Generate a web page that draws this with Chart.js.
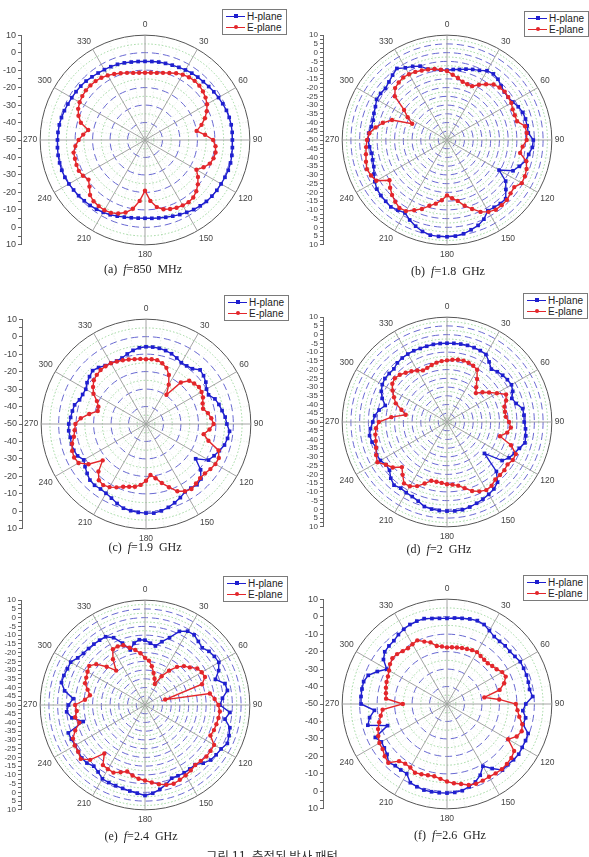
<!DOCTYPE html>
<html>
<head>
<meta charset="utf-8">
<script src="https://cdn.jsdelivr.net/npm/chart.js@4.4.1/dist/chart.umd.min.js"></script>
<style>
  body { margin: 0; background: #fff; }
  #page { position: relative; width: 589px; height: 857px; overflow: hidden; background: #fff; }
  .plot { position: absolute; }
  .legend { position: absolute; border: 1px solid #7a7a7a; background: #fff; padding: 1px 4px 1px 3px;
            font: 10px 'Liberation Sans', Arial, sans-serif; color: #222; line-height: 11px; white-space: nowrap; }
  .lg-line { display: inline-block; position: relative; width: 19px; height: 1.5px; margin-right: 2px;
             vertical-align: middle; top: -1px; }
  .lg-mark { position: absolute; left: 7.5px; top: -1.5px; width: 4px; height: 4px; }
  .caption { position: absolute; transform: translate(-50%, -50%); font: 12px 'Liberation Serif', 'Times New Roman', serif;
             color: #222; white-space: nowrap; }
  .fig-title { position: absolute; left: 272px; top: 846px; transform: translateX(-50%);
               font: 12.5px 'Noto Sans CJK KR', sans-serif; color: #333; white-space: nowrap; }
</style>
</head>
<body>
<div id="page"></div>
<script>
// angle of every measured point (deg)
const angles = [0,5,10,15,20,25,30,35,40,45,50,55,60,65,70,75,80,85,90,95,100,105,110,115,
  120,125,130,135,140,145,150,155,160,165,170,175,180,185,190,195,200,205,210,215,220,225,230,235,
  240,245,250,255,260,265,270,275,280,285,290,295,300,305,310,315,320,325,330,335,340,345,350,355];

const seriesNames = ['H-plane', 'E-plane'];

// gain in dB, one value per angle
const hPlane850 = [-5,-4.9,-4.7,-4.6,-4.4,-4.1,-3.7,-3.3,-3,-2.8,-2.4,-1.9,
  -1.4,-0.9,-0.4,-0.1,0.1,0.1,0,0.2,0.5,0.7,0.7,0.5,
  0.3,0.2,0,-0.3,-0.8,-1.4,-2.2,-2.9,-3.6,-4.2,-4.7,-5,
  -5.2,-5.1,-4.8,-4.3,-3.6,-2.8,-2.2,-1.6,-1.1,-0.8,-0.4,-0.1,
  0.3,0.6,0.7,0.6,0.5,0.3,0.1,0,-0.2,-0.5,-0.9,-1.3,
  -1.6,-1.8,-2,-2.3,-2.8,-3.2,-3.5,-3.7,-3.9,-4.3,-4.7,-4.9];
const ePlane850 = [-11.5,-11.4,-11,-10.2,-9.2,-7.8,-6.8,-6.1,-5.8,-6,-6.7,-7.7,
  -9,-11,-13.5,-16.5,-20,-15.5,-11,-9.5,-9,-9.4,-10.5,-13,
  -16,-13,-10.5,-8.5,-7,-6.5,-6.8,-7.2,-8,-9,-11,-15,
  -21,-15,-10,-7,-5.2,-4,-3.6,-3.8,-4.2,-5.5,-8.5,-10.5,
  -9,-8.2,-8.3,-8.5,-8.5,-10,-12,-14.5,-17,-12,-9.5,-7.8,
  -6.8,-6.2,-5.8,-5.8,-6,-6.5,-7.3,-8.3,-9.3,-10.2,-11,-11.4];

const hPlane1800 = [-10,-9.5,-9,-8,-7,-6,-4.2,-3.8,-4.6,-6.2,-7.2,-7.3,
  -6.5,-5,-3.8,-3.5,-3.4,-3.3,-0.6,-1,-2.5,-3.5,-6,-8.3,
  -15.6,-9,-6,-2.5,-2.5,-3,-3.3,0,2,3.2,4.5,5.2,
  5.4,5.4,5.3,4.2,2.5,0.5,-1.8,-1,0,-0.4,-0.6,-1,
  -2.3,-3.8,-5.4,-6,-6.3,-5.5,-4.8,-5,-6,-6.2,-5.5,-4.8,
  -3.5,-3.6,-4,-3,-1.5,0,-2.3,-3.5,-5,-8,-9,-9.8];
const ePlane1800 = [-10.5,-12.5,-14,-15.5,-16,-16,-13.5,-11,-8.5,-7.5,-6.9,-7.2,
  -7.5,-8.5,-8.7,-8.5,-4.6,-4.2,-4.4,-6.5,-7.5,-3,-1.5,-0.8,
  -0.6,-3,-2.5,-1.5,-1.3,-1.3,-2.5,-4.6,-8,-11,-14.6,-16.5,
  -18.3,-15.4,-13,-11,-8,-5.6,-3,-2.5,-3.9,-5.5,-7.5,-9.8,
  -3.3,-2,-1.2,-2,-2.9,-3.5,-4.2,-5.4,-8.5,-12,-16.5,-28,
  -24,-20,-11,-8,-7,-6.3,-6.5,-7,-7.7,-8.2,-8.7,-9.6];

const hPlane1900 = [-5.8,-5.8,-6,-6.5,-7.2,-8.3,-9.5,-9.4,-8.7,-6.2,-7,-8.2,
  -10,-10.5,-8,-6.8,-5.8,-4.5,-3.7,-2,-2.6,-3.5,-5.3,-7,
  -8.7,-15.3,-9.2,-5.5,-4.6,-5.2,-5.2,-3.5,-2,-0.6,0.5,1.2,
  1,0.8,0.4,-0.1,-1.6,-3.2,-4.2,-4.6,-4.2,-4.6,-6,-7.4,
  -8.9,-6.8,-6,-5.8,-6,-5.6,-5.8,-6.7,-7.2,-7.7,-9.5,-10,
  -10.2,-8.8,-7.8,-6.8,-7.8,-9.2,-9.8,-10.2,-9.8,-8.5,-7.2,-6.2];
const ePlane1900 = [-12.9,-12.8,-12.9,-14,-15.8,-19,-24,-29.6,-19,-15,-14,-13,
  -13.3,-14,-15.5,-16.2,-14,-12.5,-11.3,-13.5,-16.5,-13,-5.8,-4,
  -4.1,-5,-6,-6.2,-5.5,-4.6,-5.5,-7.5,-11.5,-15,-18.5,-20.7,
  -17.5,-15,-13.5,-12.8,-11.8,-10,-8.3,-7.3,-8,-11.5,-17.6,-9.8,
  -5.4,-4.6,-5,-6.2,-8.1,-9,-9.6,-12.5,-17,-21.4,-21,-19,
  -15.3,-13,-11,-10.2,-9.6,-9.6,-9.8,-10.5,-11.2,-11.8,-12.3,-12.6];

const hPlane2000 = [-4.9,-4.8,-4.7,-4.6,-4.7,-4.9,-5.4,-8,-10.5,-9.3,-8.4,-7.8,
  -7.4,-8.5,-10.5,-9,-6,-5.8,-5.8,-4.9,-4.2,-3.8,-6,-7.5,
  -9,-11.5,-22,-10,-5,-3.2,-2.2,-1.3,-0.5,0.4,1,1.1,
  1,0.9,0.6,0.1,-1.8,-2.9,-3.3,-3.8,-2.8,-4.5,-7,-7.4,
  -6,-5.6,-7,-5.6,-5,-6,-7.5,-8.5,-10.5,-13.4,-10.5,-8.5,
  -7.2,-6.6,-6.8,-7,-5.8,-5.3,-5.1,-5,-5.2,-5.1,-4.9,-4.9];
const ePlane2000 = [-14.7,-14.2,-13.8,-13.6,-13.9,-14.5,-15.5,-20,-24,-26.6,-23.5,-20.6,
  -17,-12.7,-14,-16,-16.3,-16.2,-14.5,-13.3,-15,-18.6,-11,-6.5,
  -6.5,-7.7,-7.1,-7.1,-7,-5.5,-5,-6.2,-8,-10.8,-13,-14,
  -14.4,-15,-15.3,-15.2,-12.5,-9.5,-7.5,-7.1,-10.5,-13.5,-9.5,-7.3,
  -4,-5.2,-6.8,-7.8,-8.4,-9.2,-11,-18,-26,-23,-18.8,-16.5,
  -14,-11.8,-11,-11.8,-13.2,-14.5,-16,-17.4,-17,-16.2,-15.5,-15];

const hPlane2400 = [-12.9,-14.5,-15.7,-12.5,-9,-3.5,-1.2,-1,-2.5,-3.7,-2.2,-1.5,
  -1.2,-3.5,-7.1,-2.6,-2.1,-5.5,-7.1,-1.2,-3.5,0.3,1.2,2,
  0.3,-0.3,-1,-2.9,-5.4,-5.3,-5.2,-5.3,-5.4,-3,-1,0.7,
  1.8,0.7,0,-0.6,-0.9,-1,-1.2,-3.2,-4.3,-3,-2.8,-3.5,
  -3.9,-3.5,-3.3,-13.4,-7.5,-5,-6.2,-8.7,-3.3,-0.5,-0.6,-1,
  -0.9,-3,-4,-4.3,-4.5,-4.7,-4.9,-7.5,-12.3,-17.4,-14,-12.5];
const ePlane2400 = [-23,-24.5,-27.5,-31,-34,-36.7,-31,-26,-21.5,-18.5,-16.5,-13.5,
  -12.5,-12.1,-15.3,-38,-12.3,-10,-8,-7,-7.3,-7.7,-8,-8.7,
  -4.3,-4.2,-4.1,-4.8,-5.2,-4.3,-3.5,-2.8,-2,-2.7,-4,-5.5,
  -6.8,-7.6,-9,-10.6,-9,-7.3,-7.6,-8,-13.8,-5.6,-2,-3.3,
  -3.6,-4.5,-7.5,-11.1,-9.4,-10.8,-10,-15.5,-18,-16,-13.5,-12.9,
  -12,-11,-13.6,-19,-24.3,-18,-13.2,-13,-13.6,-16.1,-18,-20.3];

const hPlane2600 = [-1,-0.6,-0.2,0.4,0.8,0.2,-1.5,-2.9,-3.2,-2.9,-3.1,-2.5,
  -1.6,-1.6,-1.6,-1.8,-2,-0.8,-4.9,-6.4,-4.3,-4.9,-0.6,-0.4,
  -0.3,0.1,-0.3,-0.8,-0.6,-4.9,-8.9,-5,-2.5,-1,0.4,0.8,
  1,1,1,1,0.4,-0.3,-3.9,-3.9,-3.9,-2.7,-5.2,-6.2,
  -6.6,-4.7,-13.8,-3.1,-5,-8.3,-0.8,-0.6,-0.6,-0.6,-2,-6,
  -10.2,-5.6,-3.5,-3,-2.7,-1.5,-0.6,0.2,0.5,0.6,-0.3,-0.8];
const ePlane2600 = [-17.6,-17.4,-17.2,-16.8,-16.5,-16,-15.7,-16.5,-16.9,-17,-16.2,-15.3,
  -13.5,-12.9,-15.2,-18.8,-28.3,-20,-10.6,-9.5,-8,-5.4,-4.5,-6,
  -9.6,-3.1,-1.9,-1.5,-1.2,-1.5,-1.9,-1.6,-1.4,-2,-3.5,-4.5,
  -5.6,-7,-8,-7.8,-7.2,-6.6,-8,-8.3,-7.3,-2.5,-3.5,-5,
  -5.3,-6.6,-8,-9.8,-11.5,-13,-24.7,-15,-14.5,-13.8,-13.2,-12.7,
  -11.7,-10.2,-9.2,-9.6,-10.5,-11,-10.5,-9.8,-12,-13.5,-16.3,-17];

const H_COLOR = '#1f1fcf';
const E_COLOR = '#e3262b';

Chart.defaults.font.family = "'Liberation Sans', Arial, sans-serif";
Chart.defaults.color = '#444';

const panels = [
  { tag: '(a)', freq: '850  MHz', h: hPlane850,  e: ePlane850,  major: 10, left: 0,   top: 0,   axisX: 21, legend: [222, 9],   caption: [143, 269] },
  { tag: '(b)', freq: '1.8  GHz', h: hPlane1800, e: ePlane1800, major: 5,  left: 295, top: 0,   axisX: 28, legend: [524, 11],  caption: [448, 271] },
  { tag: '(c)', freq: '1.9  GHz', h: hPlane1900, e: ePlane1900, major: 10, left: 0,   top: 284, axisX: 22, legend: [224, 295], caption: [145, 547] },
  { tag: '(d)', freq: '2  GHz',   h: hPlane2000, e: ePlane2000, major: 5,  left: 295, top: 282, axisX: 28, legend: [523, 293], caption: [439, 549] },
  { tag: '(e)', freq: '2.4  GHz', h: hPlane2400, e: ePlane2400, major: 5,  left: 0,   top: 565, axisX: 21, legend: [223, 576], caption: [141, 836] },
  { tag: '(f)', freq: '2.6  GHz', h: hPlane2600, e: ePlane2600, major: 10, left: 295, top: 564, axisX: 28, legend: [523, 575], caption: [450, 835] }
];

// stretch the left dB axis so that it spans exactly the polar circle
const alignAxis = {
  id: 'alignAxis',
  afterLayout(chart) {
    const r = chart.scales.r;
    const y = chart.scales.y;
    y.top = r.yCenter - r.drawingArea;
    y.bottom = r.yCenter + r.drawingArea;
    y.height = y.bottom - y.top;
    y.configure();
    y._gridLineItems = null;
    y._labelItems = null;
  }
};

const page = document.getElementById('page');

function buildLegend(chart, p) {
  const box = document.createElement('div');
  box.className = 'legend';
  box.style.left = p.legend[0] + 'px';
  box.style.top = p.legend[1] + 'px';
  chart.data.datasets.forEach(ds => {
    const row = document.createElement('div');
    const line = document.createElement('span');
    line.className = 'lg-line';
    line.style.background = ds.borderColor;
    const mark = document.createElement('span');
    mark.className = 'lg-mark';
    mark.style.background = ds.borderColor;
    if (ds.pointStyle === 'circle') mark.style.borderRadius = '50%';
    line.appendChild(mark);
    row.appendChild(line);
    row.appendChild(document.createTextNode(ds.label));
    box.appendChild(row);
  });
  page.appendChild(box);
}

function makeChart(p) {
  const canvas = document.createElement('canvas');
  canvas.width = 295;
  canvas.height = 270;
  canvas.className = 'plot';
  canvas.style.left = p.left + 'px';
  canvas.style.top = p.top + 'px';
  page.appendChild(canvas);

  const minor = p.major / 2;
  const chart = new Chart(canvas.getContext('2d'), {
    type: 'radar',
    data: {
      labels: angles,
      datasets: [
        { label: seriesNames[0], data: p.h, borderColor: H_COLOR, backgroundColor: H_COLOR,
          pointBackgroundColor: H_COLOR, pointStyle: 'rect', pointRadius: 2.6, pointBorderWidth: 0,
          borderWidth: 1.4, fill: false, order: 1 },
        { label: seriesNames[1], data: p.e, borderColor: E_COLOR, backgroundColor: E_COLOR,
          pointBackgroundColor: E_COLOR, pointStyle: 'circle', pointRadius: 2.2, pointBorderWidth: 0,
          borderWidth: 1.4, fill: false, order: 0 }
      ]
    },
    options: {
      responsive: false,
      animation: false,
      events: [],
      layout: { padding: { left: 0, top: 18, right: 295 - p.axisX - 244, bottom: 8 } },
      elements: { line: { tension: 0 } },
      plugins: { legend: { display: false }, tooltip: { enabled: false } },
      scales: {
        r: {
          min: -50,
          max: 10,
          ticks: { display: false, stepSize: minor },
          grid: {
            circular: true,
            color: c => c.tick.value === 10 ? '#555' : (c.tick.value % p.major === 0 ? '#6868d2' : '#9cd69c'),
            lineWidth: 1
          },
          border: {
            dash: c => c.tick.value === 10 ? [] : (c.tick.value % p.major === 0 ? [7, 4] : [1.5, 2])
          },
          angleLines: {
            color: c => angles[c.index] % 30 === 0 ? '#9a9a9a' : 'rgba(150,190,150,0.55)',
            lineWidth: c => angles[c.index] % 30 === 0 ? 0.9 : (angles[c.index] % 10 === 0 ? 0.6 : 0),
            borderDash: c => angles[c.index] % 30 === 0 ? [] : [1, 2]
          },
          pointLabels: {
            font: { size: 8.5 },
            color: '#444',
            padding: c => (angles[c.index] === 0 || angles[c.index] === 180) ? 5 : 3,
            callback: a => a % 30 === 0 ? String(a) : ''
          }
        },
        y: {
          type: 'linear',
          position: 'left',
          min: -60,
          max: 60,
          afterFit: s => { s.width = p.axisX; },
          grid: { drawOnChartArea: false, drawTicks: true, tickLength: 3, color: '#666', tickColor: '#666' },
          border: { display: true, color: '#666', width: 1 },
          ticks: {
            stepSize: minor,
            autoSkip: false,
            padding: 2,
            color: '#444',
            font: { size: p.major === 10 ? 9 : 8 },
            callback: v => Math.abs(v) % p.major === 0 ? String(Math.abs(v) - 50) : ''
          }
        }
      }
    },
    plugins: [alignAxis]
  });

  buildLegend(chart, p);

  const cap = document.createElement('div');
  cap.className = 'caption';
  cap.style.left = p.caption[0] + 'px';
  cap.style.top = p.caption[1] + 'px';
  cap.innerHTML = p.tag + '&nbsp;&nbsp;<i>f</i>=' + p.freq.replace(/ /g, '&nbsp;');
  page.appendChild(cap);
}

panels.forEach(makeChart);

const title = document.createElement('div');
title.className = 'fig-title';
title.textContent = '그림 11. 측정된 방사 패턴';
page.appendChild(title);
</script>
</body>
</html>
